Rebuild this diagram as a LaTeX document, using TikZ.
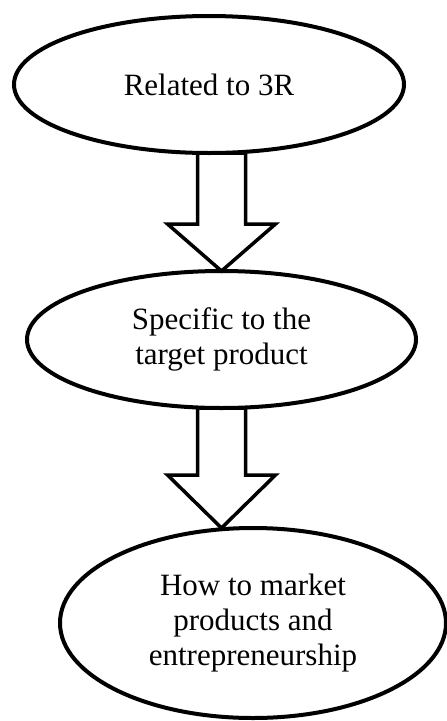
\documentclass[tikz,border=0pt]{standalone}
\usepackage{fontspec}
\setmainfont{Liberation Serif}
\usetikzlibrary{shapes.geometric,calc}
\tikzset{
  bubble/.style={ellipse, draw, line width=4pt, inner sep=0pt, outer sep=0pt,
    align=center, font=\fontsize{31}{35}\selectfont},
  hollow/.style={draw, line width=3.5pt, line join=miter, miter limit=10}
}
% #1 top of shaft, #2 tip, #3 head length
\newcommand\hollowarrow[3]{%
  \draw[hollow] ($(#1)+(-24,0)$) -- ($(#2)+(-24,-#3)$) -- ($(#2)+(-54,-#3)$)
    -- (#2) -- ($(#2)+(54,-#3)$) -- ($(#2)+(24,-#3)$) -- ($(#1)+(24,0)$) -- cycle;}
\begin{document}
\begin{tikzpicture}[x=1pt,y=-1pt]
  \useasboundingbox (0,0) rectangle (447,721);
  \node[bubble, minimum width=390pt, minimum height=137pt] (e1) at (209,84.5) {Related to 3R};
  \node[bubble, minimum width=389pt, minimum height=137pt] (e2) at (221.5,339.5) {Specific to the\\target product};
  \node[bubble, minimum width=386pt, minimum height=190pt] (e3) at (253,623) {How to market\\products and\\entrepreneurship};
  \coordinate (a1top) at (e2.north |- e1.south);
  \coordinate (a2tip) at (e2.south |- e3.north);
  \hollowarrow{a1top}{e2.north}{47}
  \hollowarrow{e2.south}{a2tip}{53}
\end{tikzpicture}
\end{document}
